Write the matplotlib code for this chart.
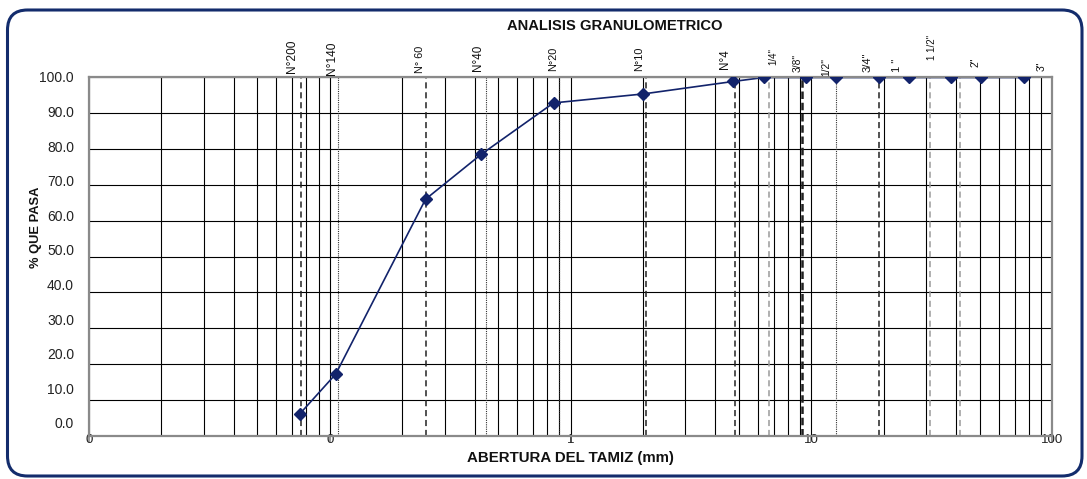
import matplotlib
matplotlib.use("Agg")
import matplotlib.pyplot as plt
from matplotlib.patches import FancyBboxPatch
from matplotlib.transforms import offset_copy
from matplotlib.ticker import FixedLocator, FuncFormatter, LogLocator, NullFormatter

plt.rcParams['font.family'] = ['Liberation Sans', 'DejaVu Sans']

# Sieve series: name, opening (mm) and percentage passing
sieve_names = ["N°200", "N°140", "N° 60", "N°40", "N°20", "N°10", "N°4",
               '1/4"', '3/8"', '1/2"', '3/4"', '1 "', '1 1/2"', '2"', '3"']
sieve_mm = [0.075, 0.106, 0.25, 0.425, 0.85, 2.0, 4.75,
            6.35, 9.525, 12.7, 19.05, 25.4, 38.1, 50.8, 76.2]
pct_passing = [6.0, 17.2, 66.0, 78.5, 92.9, 95.4, 98.9,
               100, 100, 100, 100, 100, 100, 100, 100]

# Vertical guide lines at the sieve openings
guide_mm = [0.0758, 0.108, 0.251, 0.444, 0.892, 2.05, 4.8,
            6.65, 9.18, 12.7, 19.1, 31.2, 41.5]
guide_kind = ["dash", "dot", "dash", "dot", "dot", "dash", "dash",
              "light", "heavy", "dot", "dash", "light", "light"]

y_ticks = [0, 10, 20, 30, 40, 50, 60, 70, 80, 90, 100]
x_decades = [0.01, 0.1, 1, 10, 100]

# layout of the sieve names above the plot (pixel offsets, font sizes)
label_dx = [-8, -4, -6, -3, 0, -4, -8, 10, -9, -10, -11, -12, -19, -6, 18]
label_dy = [4, 2, 4, 6, 6, 6, 8, 12, 5, 1, 5, 5, 17, 10, 6]
label_size = [8.6, 8.6, 7.8, 8.4, 7.9, 7.9, 8.4, 7.0, 7.4, 7.4, 8.0, 8.0, 7.0, 7.4, 7.4]

W, H, DPI = 1087, 479, 100
fig = plt.figure(figsize=(W / DPI, H / DPI), dpi=DPI)
fig.patch.set_facecolor("white")

# rounded outer frame
frame = FancyBboxPatch((7.5 / DPI, 3 / DPI), 1074.5 / DPI, 466 / DPI,
                       boxstyle="round,pad=0,rounding_size=0.2",
                       transform=fig.dpi_scale_trans, fill=False,
                       edgecolor="#132c6c", linewidth=2.2, zorder=0)
fig.patches.append(frame)

ax = fig.add_axes([89 / W, 1 - 435.5 / H, (1052 - 89) / W, (435.5 - 77.5) / H])
ax.set_xscale("log")
ax.set_xlim(x_decades[0], x_decades[-1])
ax.set_ylim(y_ticks[0], y_ticks[-1])

# grid
ax.xaxis.set_major_locator(FixedLocator(x_decades))
ax.xaxis.set_minor_locator(LogLocator(base=10, subs=range(2, 10)))
ax.xaxis.set_minor_formatter(NullFormatter())
ax.xaxis.set_major_formatter(FuncFormatter(lambda v, p: f"{v:.0f}"))
ax.yaxis.set_major_locator(FixedLocator(y_ticks))
ax.grid(True, which="both", axis="x", color="black", linewidth=0.8)
ax.grid(True, which="major", axis="y", color="black", linewidth=0.8)
ax.set_axisbelow(True)

for s in ax.spines.values():
    s.set_color("#8a8a8a")
    s.set_linewidth(1.6)

ax.tick_params(axis="x", which="major", direction="out", length=4, width=1.2,
               color="#8a8a8a", labelsize=9.5, pad=-5, labelcolor="#222222")
ax.tick_params(axis="x", which="minor", length=0)
ax.tick_params(axis="y", length=0, labelleft=False)

# y labels (drawn with the spacing used by the original sheet)
ytrans = ax.get_yaxis_transform()
for v in y_ticks:
    t = offset_copy(ytrans, fig=fig, x=-15, y=0.12 * (100 - v) - 1, units="dots")
    ax.text(0, v, f"{v:.1f}", transform=t, ha="right", va="center",
            fontsize=10, color="#222222")

# guide lines
styles = {
    "dash": dict(color="#222222", linewidth=1.1, dashes=(4, 2.5)),
    "heavy": dict(color="#222222", linewidth=1.8, dashes=(3, 1.5)),
    "light": dict(color="#9a9a9a", linewidth=1.1, dashes=(4, 2.5)),
    "dot": dict(color="#333333", linewidth=0.8, dashes=(1, 1)),
}
for xm, kind in zip(guide_mm, guide_kind):
    ax.plot([xm, xm], [y_ticks[0], y_ticks[-1]], zorder=1.8, **styles[kind])

# grading curve
navy = "#12236b"
ax.plot(sieve_mm, pct_passing, color=navy, linewidth=1.2, zorder=2.2)
ax.plot(sieve_mm, pct_passing, linestyle="none", marker="D", markersize=6,
        color=navy, zorder=3)

# sieve names along the top
for name, xm, dx, dy, fs in zip(sieve_names, sieve_mm, label_dx, label_dy, label_size):
    ax.annotate(name, xy=(xm, y_ticks[-1]), xytext=(dx, dy),
                textcoords="offset pixels", rotation=90,
                ha="center", va="bottom", fontsize=fs, color="#111111",
                annotation_clip=False)

fig.text(615 / W, 1 - 26 / H, "ANALISIS GRANULOMETRICO", ha="center",
         va="center", fontsize=10.6, fontweight="bold", color="#111111")
fig.text(570 / W, 1 - 458 / H, "ABERTURA DEL TAMIZ (mm)", ha="center",
         va="center", fontsize=10.8, fontweight="bold", color="#111111")
fig.text(36 / W, 1 - 227 / H, "% QUE PASA", ha="center", va="center",
         rotation=90, fontsize=9.3, fontweight="bold", color="#111111")

fig.savefig("out.png", dpi=DPI)
